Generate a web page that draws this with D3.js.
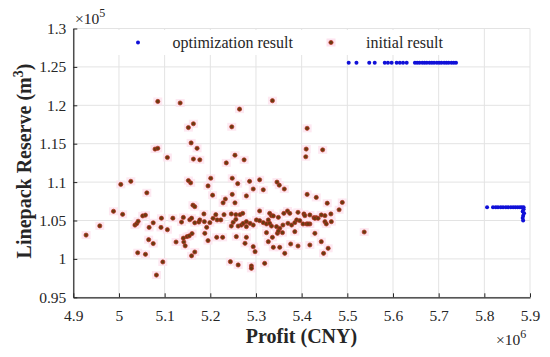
<!DOCTYPE html>
<html>
  <head>
    <meta charset="utf-8">
    <title>linepack reserve vs profit</title>
    <script src="https://d3js.org/d3.v7.min.js" charset="utf-8"></script>
    <style>
      body{ margin:0; background:#fff; }
      svg text{ font-family:'Liberation Serif','Times New Roman',serif; fill:#262626; }
    </style>
  </head>
  <body>
    <svg></svg>
    <script>

      //begin: data (profit in 1e6 CNY, reserve in 1e5 m3)
      var initProfit = [
        4.928,4.958,4.988,5.008,5.004,5.026,5.061,5.035,5.039,5.042,5.052,5.058,5.066,5.075,5.065,5.075,
        5.041,5.058,5.082,5.096,5.093,5.092,5.106,5.118,5.125,5.137,5.141,5.142,5.145,5.141,5.149,5.154,
        5.159,5.166,5.160,5.155,5.159,5.166,5.162,5.166,5.157,5.152,5.175,
        5.085,5.134,5.336,5.264,5.152,5.163,5.247,5.158,5.079,5.085,5.171,5.106,5.163,5.177,5.254,5.235,
        5.274,5.412,5.410,5.446,5.409,5.201,5.195,5.248,5.260,5.286,5.308,5.294,5.316,5.346,5.351,5.362,
        5.412,5.432,5.205,5.233,5.248,5.279,5.537,
        5.228,5.254,5.456,5.489,5.482,
        5.186,5.212,5.230,5.246,5.256,5.265,5.271,5.308,5.330,5.334,5.349,5.361,5.369,5.374,5.392,5.405,
        5.407,5.418,5.427,5.432,5.451,5.464,5.177,5.187,5.199,5.206,5.215,5.223,5.192,5.188,5.195,5.214,
        5.227,5.250,5.256,5.246,5.261,5.268,5.272,5.279,5.287,5.279,5.294,5.301,5.308,5.316,5.323,5.327,
        5.330,5.334,5.345,5.352,5.359,5.370,5.378,5.385,5.389,5.396,5.403,5.411,5.418,5.429,5.436,5.451,
        5.454,5.465,5.257,5.279,5.276,5.294,5.298,5.327,5.338,5.352,5.363,5.376,5.392,5.418,5.429,5.443,
        5.458,5.448,5.244,5.261,5.290,5.290,5.319,5.323,5.347,5.336,5.358,5.385,5.338,5.349,5.414,5.443
      ];
      var initReserve = [
        1.031,1.043,1.062,1.058,1.097,1.101,1.086,1.044,1.046,1.049,1.056,1.057,1.041,1.047,1.025,1.020,
        1.008,1.006,0.979,0.996,1.053,1.041,1.038,1.053,1.022,1.048,1.054,1.022,1.017,1.027,1.029,1.030,
        1.004,1.009,1.033,1.051,1.053,1.047,1.070,1.068,1.099,1.102,1.048,
        1.205,1.203,1.206,1.195,1.171,1.176,1.172,1.151,1.143,1.144,1.144,1.132,1.130,1.129,1.135,1.125,
        1.129,1.170,1.143,1.142,1.133,1.105,1.095,1.105,1.098,1.101,1.103,1.091,1.090,1.100,1.096,1.091,
        1.084,1.080,1.083,1.078,1.084,1.082,1.035,
        1.073,1.073,1.0725,1.0735,1.064,
        1.0585,1.0576,1.0576,1.0585,1.0576,1.0576,1.0593,1.0624,1.0593,1.0563,1.0541,1.0593,1.0624,1.0593,1.0606,1.0585,
        1.0563,1.0572,1.0537,1.0537,1.0563,1.0585,1.0507,1.0485,1.0472,1.0528,1.0507,1.0507,1.0411,1.0333,1.0238,1.0281,
        1.0281,1.0476,1.0515,1.0428,1.0428,1.0441,1.0463,1.0485,1.0463,1.0420,1.0441,1.0507,1.0498,1.0472,1.0455,1.0507,
        1.0463,1.0428,1.0420,1.0398,1.0441,1.0463,1.0441,1.0472,1.0507,1.0498,1.0455,1.0455,1.0455,1.0528,1.0528,1.0485,
        1.0455,1.0485,1.0290,1.0281,1.0203,1.0159,1.0094,1.0224,1.0151,1.0151,1.0073,1.0194,1.0168,1.0181,1.0333,1.0224,
        1.0138,1.0073,0.9964,0.9921,0.9908,0.9877,0.9942,1.0342,1.0333,1.0281,1.0342,1.0355,1.0559,1.0363,1.0455,1.0572
      ];
      var optProfit = [
        5.503,5.520,5.548,5.560,5.582,5.589,5.597,5.608,5.615,5.622,5.630,
        5.648,5.653,5.658,5.664,5.669,5.674,5.680,5.685,5.690,5.696,5.701,5.706,5.712,5.717,5.722,5.728,5.733,5.738,
        5.806,5.819,5.825,5.830,5.836,5.841,5.847,5.852,5.858,5.863,5.868,5.873,5.878,5.882,5.886,
        5.886,5.884,5.887,5.885,5.884,5.885
      ];
      var optReserve = [
        1.2555,1.2555,1.2555,1.2555,1.2555,1.2555,1.2555,1.2555,1.2555,1.2555,1.2555,
        1.2555,1.2555,1.2555,1.2555,1.2555,1.2555,1.2555,1.2555,1.2555,1.2555,1.2555,1.2555,1.2555,1.2555,1.2555,1.2555,1.2555,1.2555,
        1.0672,1.0672,1.0672,1.0672,1.0672,1.0672,1.0672,1.0672,1.0672,1.0672,1.0672,1.0672,1.0672,1.0672,1.0672,
        1.0648,1.0617,1.0596,1.0561,1.0531,1.0500
      ];
      var xTicks = [4.9,5.0,5.1,5.2,5.3,5.4,5.5,5.6,5.7,5.8,5.9];
      var xTickLabels = ["4.9","5","5.1","5.2","5.3","5.4","5.5","5.6","5.7","5.8","5.9"];
      var yTicks = [0.95,1.0,1.05,1.1,1.15,1.2,1.25,1.3];
      var yTickLabels = ["0.95","1","1.05","1.1","1.15","1.2","1.25","1.3"];
      var legendLabels = ["optimization result","initial result"];
      //end: data

      //begin: layout conf.
      var svgWidth = 550, svgHeight = 357,
          plot = {left: 73.3, right: 530, top: 28.5, bottom: 297.3};
      var optColor = "#1010d8", initFill = "#6a3a10", initStroke = "#b83020", haloColor = "#fde2ee";
      //end: layout conf.

      var x = d3.scaleLinear().domain([4.9, 5.9]).range([plot.left, plot.right]);
      var y = d3.scaleLinear().domain([0.95, 1.3]).range([plot.bottom, plot.top]);

      var svg = d3.select("svg")
        .attr("width", svgWidth)
        .attr("height", svgHeight);

      // grid
      var grid = svg.append("g").classed("grid", true)
        .attr("stroke", "#e3e3e3").attr("stroke-width", 1);
      grid.selectAll(".vx").data(xTicks).enter().append("line")
        .attr("x1", function(d){ return x(d); }).attr("x2", function(d){ return x(d); })
        .attr("y1", plot.top).attr("y2", plot.bottom);
      grid.selectAll(".hy").data(yTicks).enter().append("line")
        .attr("y1", function(d){ return y(d); }).attr("y2", function(d){ return y(d); })
        .attr("x1", plot.left).attr("x2", plot.right);

      // legend background hides grid under it
      svg.append("rect")
        .attr("x", plot.left + 1).attr("y", plot.top + 1.5)
        .attr("width", 396).attr("height", 25)
        .attr("fill", "#fff");

      // axes
      var xAxis = svg.append("g")
        .attr("transform", "translate(0," + plot.bottom + ")")
        .call(d3.axisBottom(x).tickValues(xTicks)
          .tickFormat(function(d, i){ return xTickLabels[i]; })
          .tickSizeInner(-4).tickSizeOuter(0).tickPadding(10));
      var yAxis = svg.append("g")
        .attr("transform", "translate(" + plot.left + ",0)")
        .call(d3.axisLeft(y).tickValues(yTicks)
          .tickFormat(function(d, i){ return yTickLabels[i]; })
          .tickSizeInner(-4).tickSizeOuter(0).tickPadding(7));
      [xAxis, yAxis].forEach(function(a){
        a.select(".domain").attr("stroke", "#262626").attr("stroke-width", 1.2);
        a.selectAll(".tick line").attr("stroke", "#262626");
        a.selectAll(".tick text").style("font-size", "15.5px")
          .style("font-family", "'Liberation Serif',serif").attr("fill", "#262626");
      });
      xAxis.selectAll(".tick text").attr("dy", "0.9em");

      // initial result points
      var initData = initProfit.map(function(p, i){ return [p, initReserve[i]]; });
      var optData = optProfit.map(function(p, i){ return [p, optReserve[i]]; });

      var halos = svg.append("g").classed("halos", true);
      halos.selectAll("rect").data(initData).enter().append("rect")
        .attr("x", function(d){ return x(d[0]) - 4.5; })
        .attr("y", function(d){ return y(d[1]) - 4; })
        .attr("width", 9).attr("height", 8)
        .attr("fill", haloColor).attr("opacity", 0.8);

      svg.append("g").classed("init", true)
        .selectAll("circle").data(initData).enter().append("circle")
        .attr("cx", function(d){ return x(d[0]); })
        .attr("cy", function(d){ return y(d[1]); })
        .attr("r", 2.1)
        .attr("fill", initFill).attr("stroke", initStroke).attr("stroke-width", 0.7);

      svg.append("g").classed("opt", true)
        .selectAll("circle").data(optData).enter().append("circle")
        .attr("cx", function(d){ return x(d[0]); })
        .attr("cy", function(d){ return y(d[1]); })
        .attr("r", 2)
        .attr("fill", optColor);

      // legend
      var legend = svg.append("g").classed("legend", true);
      legend.append("circle").attr("cx", 138).attr("cy", 42.5).attr("r", 2).attr("fill", optColor);
      legend.append("text").attr("x", 172.5).attr("y", 47.5).style("font-size", "16px").text(legendLabels[0]);
      legend.append("rect").attr("x", 326.5).attr("y", 38.5).attr("width", 9).attr("height", 8).attr("fill", haloColor);
      legend.append("circle").attr("cx", 331).attr("cy", 42.5).attr("r", 2.1)
        .attr("fill", initFill).attr("stroke", initStroke).attr("stroke-width", 0.7);
      legend.append("text").attr("x", 366).attr("y", 47.5).style("font-size", "16px").text(legendLabels[1]);

      // axis labels
      svg.append("text")
        .attr("x", 301.5).attr("y", 343)
        .attr("text-anchor", "middle")
        .style("font-size", "20px").style("font-weight", "bold")
        .text("Profit (CNY)");

      var yl = svg.append("text")
        .attr("transform", "translate(31,161) rotate(-90)")
        .attr("text-anchor", "middle")
        .style("font-size", "20px").style("font-weight", "bold");
      yl.append("tspan").text("Linepack Reserve (m");
      yl.append("tspan").attr("dy", -8).style("font-size", "14px").text("3");
      yl.append("tspan").attr("dy", 8).text(")");

      // exponent labels
      var e5 = svg.append("text").attr("x", 75).attr("y", 24).style("font-size", "15.5px");
      e5.append("tspan").text("\u00d710");
      e5.append("tspan").attr("dy", -7).style("font-size", "12px").text("5");

      var e6 = svg.append("text").attr("x", 496).attr("y", 345).style("font-size", "15.5px");
      e6.append("tspan").text("\u00d710");
      e6.append("tspan").attr("dy", -7).style("font-size", "12px").text("6");

    </script>
  </body>
</html>
